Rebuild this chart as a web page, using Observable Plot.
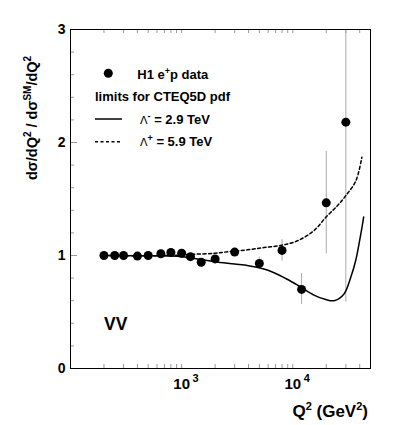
<!DOCTYPE html>
<html><head><meta charset="utf-8">
<script src="https://cdn.jsdelivr.net/npm/d3@7"></script>
<script src="https://cdn.jsdelivr.net/npm/@observablehq/plot@0.6"></script>
<style>
body{margin:0;background:#fff;}
svg text{font-family:"Liberation Sans",Arial,Helvetica,sans-serif;}
</style>
</head><body>
<div id="chart"></div>
<script>
// H1 e+p data points
const q2 = [200, 250, 300, 400, 500, 650, 800, 1000, 1200, 1500, 2000, 3000, 5000, 8000, 12000, 20000, 30000];
const ratio = [1.00, 1.00, 1.00, 0.995, 1.00, 1.015, 1.027, 1.02, 0.99, 0.94, 0.97, 1.03, 0.93, 1.045, 0.70, 1.466, 2.18];
const errLow = [0.99, 0.99, 0.99, 0.985, 0.99, 1.005, 1.015, 1.005, 0.975, 0.92, 0.95, 1.00, 0.88, 0.95, 0.566, 1.015, 0.587];
const errHigh = [1.01, 1.01, 1.01, 1.005, 1.01, 1.025, 1.04, 1.035, 1.005, 0.96, 0.99, 1.06, 0.985, 1.14, 0.84, 1.92, 3.0];

// limit curves (CTEQ5D pdf)
const minusQ2 = [200, 500, 1000, 1500, 2000, 3000, 4000, 5500, 6700, 8900, 11800, 15500, 19800, 23500, 28900, 33300, 36900, 40900, 43400];
const minusR = [1.0, 0.998, 0.99, 0.965, 0.945, 0.925, 0.91, 0.88, 0.85, 0.79, 0.72, 0.65, 0.61, 0.60, 0.66, 0.81, 0.96, 1.19, 1.34];
const plusQ2 = [200, 800, 1200, 2000, 2700, 3900, 5500, 7900, 11000, 15500, 19900, 25200, 30000, 36900, 41800];
const plusR = [1.0, 1.0, 1.01, 1.02, 1.035, 1.05, 1.07, 1.09, 1.13, 1.22, 1.34, 1.44, 1.53, 1.66, 1.87];

// axis ticks
const xMinorTicks = [200,300,400,500,600,700,800,900,1000,2000,3000,4000,5000,6000,7000,8000,9000,10000,20000,30000,40000];
const xLabelTicks = [1000, 10000];
const xLabelExp = ["3", "4"];
const yMinorTicks = [0.2,0.4,0.6,0.8,1.2,1.4,1.6,1.8,2.2,2.4,2.6,2.8];
const yMajorTicks = [0, 1, 2, 3];

const points = q2.map((q, i) => ({q, r: ratio[i], lo: errLow[i], hi: errHigh[i]}));
const minus = minusQ2.map((q, i) => ({q, r: minusR[i]}));
const plus = plusQ2.map((q, i) => ({q, r: plusR[i]}));

const W = 397, H = 425, mL = 70, mR = 27, mT = 29, mB = 57;
const innerH = H - mT - mB, innerW = W - mL - mR;
const tickColor = "#999";

const plot = Plot.plot({
  width: W, height: H,
  marginLeft: mL, marginRight: mR, marginTop: mT, marginBottom: mB,
  style: {fontFamily: "Liberation Sans, Arial, sans-serif", background: "white"},
  x: {type: "log", domain: [100, 50000], axis: null},
  y: {domain: [0, 3], axis: null},
  marks: [
    Plot.ruleX(xMinorTicks, {x: d => d, insetTop: innerH - 4, stroke: tickColor}),
    Plot.ruleX(xMinorTicks, {x: d => d, insetBottom: innerH - 4, stroke: tickColor}),
    Plot.ruleY(yMinorTicks, {y: d => d, insetRight: innerW - 4, stroke: tickColor}),
    Plot.ruleY(yMajorTicks, {y: d => d, insetRight: innerW - 7, stroke: tickColor}),
    Plot.ruleX(points, {x: "q", y1: "lo", y2: "hi", stroke: "#aaa", strokeWidth: 1, clip: true}),
    Plot.line(minus, {x: "q", y: "r", stroke: "black", strokeWidth: 1.5, curve: "catmull-rom", clip: true}),
    Plot.line(plus, {x: "q", y: "r", stroke: "black", strokeWidth: 1.5, strokeDasharray: "3,2.5", curve: "catmull-rom", clip: true}),
    Plot.dot(points, {x: "q", y: "r", r: 4.5, fill: "black", stroke: "none"}),
    Plot.frame({stroke: "black", strokeWidth: 1}),
    Plot.text(yMajorTicks, {y: d => d, frameAnchor: "left", text: d => String(d), textAnchor: "end", dx: -5, fontSize: 14, fontWeight: "bold"}),
    Plot.text(xLabelTicks, {x: d => d, frameAnchor: "bottom", text: () => "10", dy: 20, fontSize: 15, fontWeight: "bold"}),
    Plot.text(xLabelTicks, {x: d => d, frameAnchor: "bottom", text: (d, i) => xLabelExp[i], dx: 14, dy: 13, fontSize: 11, fontWeight: "bold"})
  ]
});
document.getElementById("chart").appendChild(plot);

const svg = d3.select(plot);
const bold = "bold";
svg.append("circle").attr("cx", 108.3).attr("cy", 73.3).attr("r", 4.5).attr("fill", "black");
const t1 = svg.append("text").attr("x", 137.3).attr("y", 79.3).attr("text-anchor", "start").attr("font-size", 13).attr("font-weight", bold);
t1.append("tspan").text("H1 e");
t1.append("tspan").attr("dy", -5).attr("font-size", 9).text("+");
t1.append("tspan").attr("dy", 5).text("p data");
svg.append("text").attr("x", 95).attr("y", 101).attr("text-anchor", "start").attr("font-size", 13).attr("font-weight", bold).text("limits for CTEQ5D pdf");
svg.append("line").attr("x1", 95).attr("x2", 122).attr("y1", 119).attr("y2", 119).attr("stroke", "black").attr("stroke-width", 1.5);
svg.append("line").attr("x1", 95).attr("x2", 122).attr("y1", 141.7).attr("y2", 141.7).attr("stroke", "black").attr("stroke-width", 1.5).attr("stroke-dasharray", "3,2.5");
function lambdaLabel(y, sign, val) {
  const t = svg.append("text").attr("x", 140).attr("y", y).attr("text-anchor", "start").attr("font-size", 13).attr("font-weight", bold);
  t.append("tspan").attr("font-weight", "normal").attr("font-family", "DejaVu Sans").attr("font-size", 11).text("Λ");
  t.append("tspan").attr("dy", -5).attr("font-size", 9).text(sign);
  t.append("tspan").attr("dy", 5).text(" = " + val + " TeV");
}
lambdaLabel(123.7, "-", "2.9");
lambdaLabel(146.4, "+", "5.9");

svg.append("text").attr("x", 104).attr("y", 329.5).attr("text-anchor", "start").attr("font-size", 17.5).attr("font-weight", bold).text("VV");

const xt = svg.append("text").attr("x", 368).attr("y", 417).attr("text-anchor", "end").attr("font-size", 17).attr("font-weight", bold);
xt.append("tspan").text("Q");
xt.append("tspan").attr("dy", -7).attr("font-size", 11).text("2");
xt.append("tspan").attr("dy", 7).text(" (GeV");
xt.append("tspan").attr("dy", -7).attr("font-size", 11).text("2");
xt.append("tspan").attr("dy", 7).text(")");

const yt = svg.append("text").attr("transform", "translate(37,180) rotate(-90)").attr("text-anchor", "start").attr("font-size", 14.5).attr("font-weight", bold);
yt.append("tspan").text("dσ/dQ");
yt.append("tspan").attr("dy", -6).attr("font-size", 10).text("2");
yt.append("tspan").attr("dy", 6).text(" / dσ");
yt.append("tspan").attr("dy", -6).attr("font-size", 10).text("SM");
yt.append("tspan").attr("dy", 6).text("/dQ");
yt.append("tspan").attr("dy", -6).attr("font-size", 10).text("2");
</script>
</body></html>
